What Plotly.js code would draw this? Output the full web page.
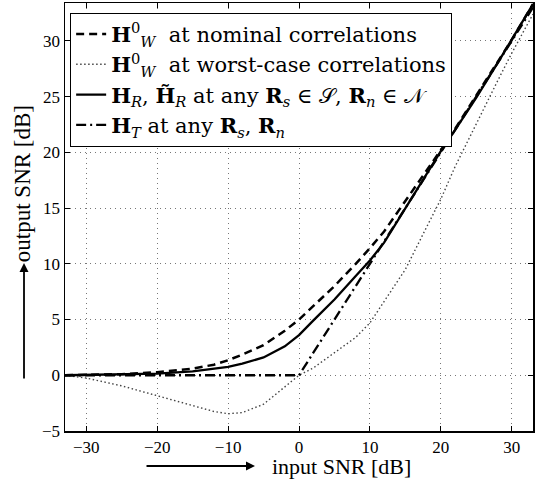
<!DOCTYPE html>
<html>
<head>
<meta charset="utf-8">
<script src="https://cdn.plot.ly/plotly-3.0.1.min.js"></script>
<style>html,body{margin:0;padding:0;background:#fff;}#chart{width:536px;height:481px;}</style>
</head>
<body>
<div id="chart"></div>
<script>
// input SNR [dB]
const inputSNR = [-33, -30, -25, -20, -15, -12, -10, -8, -5, -2, 0, 2, 5, 8, 10, 12, 15, 18, 20, 22, 25, 28, 30, 33];
// H_W^0 at nominal correlations
const nominalSNR = [0.0, 0.03, 0.1, 0.27, 0.6, 0.95, 1.35, 1.85, 2.7, 4.0, 5.0, 6.2, 8.0, 10.0, 11.4, 12.9, 15.6, 18.3, 20.2, 22.1, 25.1, 28.1, 30.1, 33.3];
// H_W^0 at worst-case correlations
const worstSNR = [0.0, -0.25, -0.95, -1.85, -2.75, -3.25, -3.45, -3.35, -2.6, -1.0, 0.0, 0.65, 2.0, 3.4, 4.7, 6.6, 9.5, 13.3, 15.8, 18.7, 22.6, 26.4, 28.9, 32.4];
// H_R, H~_R
const robustSNR = [0.0, 0.02, 0.05, 0.15, 0.35, 0.55, 0.75, 1.05, 1.6, 2.6, 3.6, 4.9, 6.8, 8.9, 10.3, 11.9, 15.0, 18.1, 20.1, 22.0, 24.9, 28.0, 30.1, 33.3];
// H_T
const tSNR = [0, 0, 0, 0, 0, 0, 0, 0, 0, 0, 0, 2.0, 5.0, 8.0, 10.0, 12.0, 15.0, 18.0, 20.0, 22.0, 25.0, 28.0, 30.0, 33.0];

const legendNames = [
  "<b>H</b><sup>0</sup><sub><i>W</i></sub>  at nominal correlations",
  "<b>H</b><sup>0</sup><sub><i>W</i></sub>  at worst-case correlations",
  "<b>H</b><sub><i>R</i></sub>, <b>H̃</b><sub><i>R</i></sub> at any <b>R</b><sub><i>s</i></sub> ∈ 𝒮, <b>R</b><sub><i>n</i></sub> ∈ 𝒩",
  "<b>H</b><sub><i>T</i></sub> at any <b>R</b><sub><i>s</i></sub>, <b>R</b><sub><i>n</i></sub>"
];
const xTicks = [-30, -20, -10, 0, 10, 20, 30];
const yTicks = [-5, 0, 5, 10, 15, 20, 25, 30];

const serif = '"Liberation Serif", "Times New Roman", serif';
const legendSerif = '"DejaVu Serif", serif';

const traces = [
  {x: inputSNR, y: nominalSNR, name: legendNames[0], mode: 'lines', line: {color: '#000', width: 2.5, dash: '8px,5px'}},
  {x: inputSNR, y: worstSNR, name: legendNames[1], mode: 'lines', line: {color: '#444', width: 1.4, dash: '1.5px,2.5px'}},
  {x: inputSNR, y: robustSNR, name: legendNames[2], mode: 'lines', line: {color: '#000', width: 2.3, dash: 'solid'}},
  {x: inputSNR, y: tSNR, name: legendNames[3], mode: 'lines', line: {color: '#000', width: 2.3, dash: '10px,4px,2px,4px'}}
];

const axisCommon = {
  showline: true, linecolor: '#000', linewidth: 1.5, mirror: 'ticks',
  ticks: 'inside', ticklen: 5, tickcolor: '#000', tickwidth: 1,
  showgrid: true, gridcolor: '#777', gridwidth: 1, griddash: '1px,4px',
  zeroline: false,
  tickfont: {family: serif, size: 17, color: '#000'}
};

const layout = {
  width: 536, height: 481,
  margin: {l: 65, r: 3, t: 3, b: 50},
  paper_bgcolor: '#fff', plot_bgcolor: '#fff',
  showlegend: true,
  font: {family: serif, color: '#000'},
  xaxis: Object.assign({}, axisCommon, {range: [-33, 33], tickmode: 'array', tickvals: xTicks}),
  yaxis: Object.assign({}, axisCommon, {range: [-5, 33.4], tickmode: 'array', tickvals: yTicks}),
  legend: {
    x: 0.011, y: 0.977, xanchor: 'left', yanchor: 'top',
    bgcolor: '#fff', bordercolor: '#000', borderwidth: 1,
    font: {family: legendSerif, size: 21, color: '#000'},
    tracegroupgap: 0, itemwidth: 30
  },
  annotations: [
    {xref: 'paper', yref: 'paper', x: 0.59, y: -0.0841, text: 'input SNR [dB]', showarrow: false,
     font: {family: serif, size: 22, color: '#000'}, xanchor: 'center', yanchor: 'middle'},
    {xref: 'paper', yref: 'paper', x: 0.406, y: -0.0818, text: '', showarrow: true,
     axref: 'pixel', ayref: 'pixel', ax: -110, ay: 0, arrowhead: 2, arrowsize: 1, arrowwidth: 1.8, arrowcolor: '#000'},
    {xref: 'paper', yref: 'paper', x: -0.0919, y: 0.579, text: 'output SNR [dB]', showarrow: false, textangle: -90,
     font: {family: serif, size: 23, color: '#000'}, xanchor: 'center', yanchor: 'middle'},
    {xref: 'paper', yref: 'paper', x: -0.0876, y: 0.3925, text: '', showarrow: true,
     axref: 'pixel', ayref: 'pixel', ax: 0, ay: 117, arrowhead: 2, arrowsize: 1, arrowwidth: 1.8, arrowcolor: '#000'}
  ]
};

Plotly.newPlot('chart', traces, layout, {displayModeBar: false, staticPlot: true});
</script>
</body>
</html>
